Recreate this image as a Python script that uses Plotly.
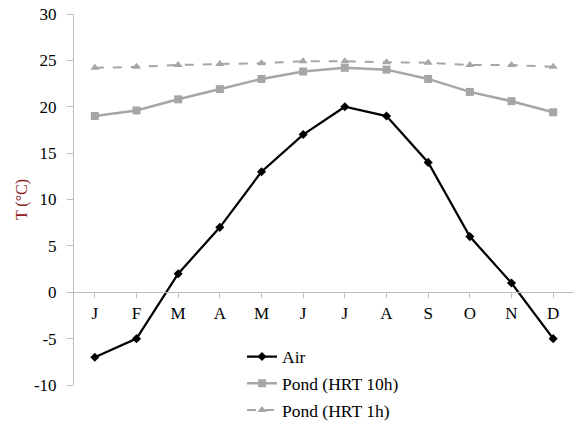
import plotly.graph_objects as go

months = ["J", "F", "M", "A", "M", "J", "J", "A", "S", "O", "N", "D"]
x_idx = list(range(12))
air = [-7, -5, 2, 7, 13, 17, 20, 19, 14, 6, 1, -5]
pond_10h = [19.0, 19.6, 20.8, 21.9, 23.0, 23.8, 24.2, 24.0, 23.0, 21.6, 20.6, 19.4]
pond_1h = [24.2, 24.3, 24.5, 24.6, 24.7, 24.9, 24.9, 24.8, 24.75, 24.5, 24.5, 24.3]
y_ticks = [-10, -5, 0, 5, 10, 15, 20, 25, 30]
y_tick_text = ["-10", "-5", "0", "5", "10", "15", "20", "25", "30"]

font_family = "Liberation Serif"
gray = "#A6A6A6"

fig = go.Figure()
fig.add_trace(go.Scatter(
    x=x_idx, y=air, name="Air", mode="lines+markers", legendgroup="a",
    line=dict(color="black", width=2.25),
    marker=dict(symbol="diamond", size=7, color="black"),
))
fig.add_trace(go.Scatter(
    x=x_idx, y=pond_10h, name="Pond (HRT 10h)", mode="lines+markers", legendgroup="b",
    line=dict(color=gray, width=2.5),
    marker=dict(symbol="square", size=8, color=gray),
))
fig.add_trace(go.Scatter(
    x=x_idx, y=pond_1h, name="Pond (HRT 1h)", mode="lines+markers", legendgroup="c",
    line=dict(color=gray, width=2, dash="dash"),
    marker=dict(symbol="triangle-up", size=8, color=gray),
))

fig.update_layout(
    width=577, height=421,
    margin=dict(l=74, r=3, t=14, b=36, autoexpand=False),
    paper_bgcolor="white", plot_bgcolor="white",
    font=dict(family=font_family, size=17, color="black"),
    showlegend=True,
    legend=dict(
        x=0.336, y=0.125, xanchor="left", yanchor="top",
        bgcolor="rgba(0,0,0,0)", tracegroupgap=1,
        font=dict(family=font_family, size=17.5, color="black"),
    ),
    xaxis=dict(
        range=[-0.5, 11.5],
        tickmode="array", tickvals=x_idx, ticktext=months,
        anchor="free", position=0.25, automargin=False,
        showline=True, linecolor="#BFBFBF", linewidth=1,
        ticks="outside", tickson="boundaries", ticklen=5, tickcolor="#BFBFBF",
        showgrid=False, zeroline=False,
        tickfont=dict(family=font_family, size=17, color="black"),
    ),
    yaxis=dict(
        range=[-10, 30], automargin=False,
        tickmode="array", tickvals=y_ticks, ticktext=y_tick_text,
        showline=True, linecolor="#BFBFBF", linewidth=1,
        ticks="outside", ticklen=6, tickcolor="#BFBFBF",
        ticklabelstandoff=7,
        showgrid=False, zeroline=False,
        tickfont=dict(family=font_family, size=17, color="black"),
        title=dict(text="T (°C)", font=dict(family=font_family, size=16, color="#8B2020"), standoff=2),
    ),
)

fig.write_html("out.html")
